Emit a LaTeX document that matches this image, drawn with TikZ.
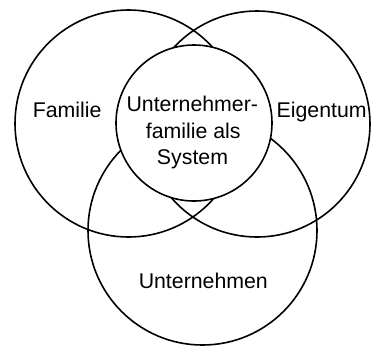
\documentclass[tikz,border=0pt]{standalone}
\usepackage{fontspec}
\setmainfont{Liberation Sans}
\begin{document}
\begin{tikzpicture}[x=1pt,y=-1pt,
  ring/.style={circle, draw, line width=1.6pt, inner sep=0pt},
  lbl/.style={anchor=base, inner sep=0pt, font=\fontsize{21.3}{25.8}\selectfont}]
\useasboundingbox (0,0) rectangle (371,346);
\node[ring, minimum size=227pt] (fam) at (128.5,123.5) {};
\node[ring, minimum size=226pt] (eig) at (257,124) {};
\node[ring, minimum size=229pt] (unt) at (202.5,230.5) {};
\node[ring, minimum size=156pt, fill=white] (sys) at (194,123) {};
\node[lbl] (tfam) at (67.2,117.5) {Familie};
\node[lbl] (teig) at (321.7,117.7) {Eigentum};
\node[lbl] (ts1) at (192.3,111.7) {Unternehmer-};
\node[lbl] (ts2) at (193.3,138.2) {familie als};
\node[lbl] (ts3) at (192.5,164.5) {System};
\node[lbl] (tunt) at (203.3,288.3) {Unternehmen};
\end{tikzpicture}
\end{document}
